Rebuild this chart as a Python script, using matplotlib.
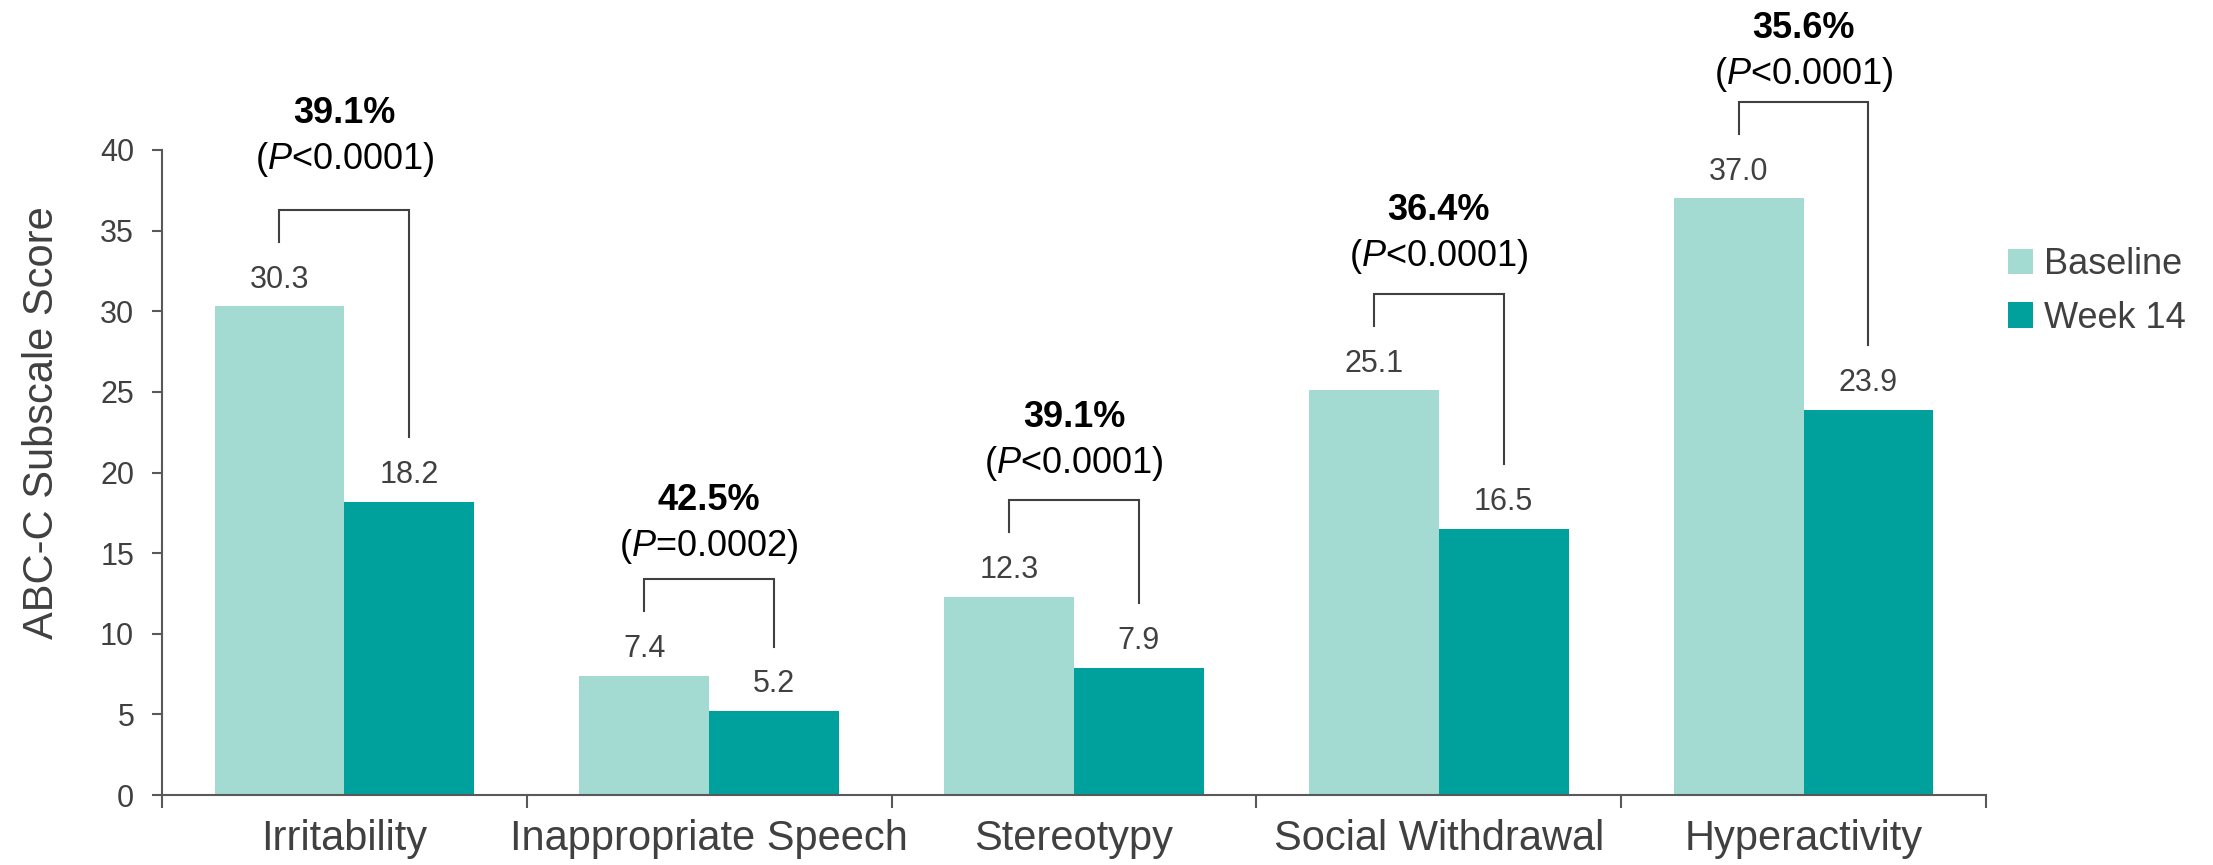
import matplotlib.pyplot as plt
import numpy as np

# Data
categories = ['Irritability', 'Inappropriate Speech', 'Stereotypy',
              'Social Withdrawal', 'Hyperactivity']
baseline = [30.3, 7.4, 12.3, 25.1, 37.0]
week14 = [18.2, 5.2, 7.9, 16.5, 23.9]
pct_change = ['39.1%', '42.5%', '39.1%', '36.4%', '35.6%']
p_values = ['<0.0001', '=0.0002', '<0.0001', '<0.0001', '<0.0001']

# layout tweaks for the annotation text (points above bracket top)
p_gap = [29.5, 16.5, 19.5, 20, 13]

plt.rcParams['font.family'] = ['Liberation Sans', 'DejaVu Sans']
plt.rcParams['mathtext.fontset'] = 'custom'
plt.rcParams['mathtext.rm'] = 'Liberation Sans'
plt.rcParams['mathtext.it'] = 'Liberation Sans:italic'

light = '#A3DAD2'
dark = '#00A19C'
grey = '#404040'
axis_col = '#595959'

fig = plt.figure(figsize=(22.13, 8.65), dpi=100)
ax = fig.add_axes([0.0732, 0.0809, 0.8242, 0.7457])

x = np.arange(len(categories))
w = 0.356

ax.bar(x - w / 2, baseline, w, color=light, label='Baseline')
ax.bar(x + w / 2, week14, w, color=dark, label='Week 14')

# value labels
for xi, b, k in zip(x, baseline, week14):
    ax.annotate(f'{b:.1f}', (xi - w / 2, b), xytext=(0, 13.5), textcoords='offset points',
                ha='center', va='baseline', fontsize=22, color=grey)
    ax.annotate(f'{k:.1f}', (xi + w / 2, k), xytext=(0, 13.5), textcoords='offset points',
                ha='center', va='baseline', fontsize=22, color=grey)

# brackets with % change and p value
for xi, b, k, pc, pv, gap in zip(x, baseline, week14, pct_change, p_values, p_gap):
    xl, xr = xi - w / 2, xi + w / 2
    top = b + 6
    ax.plot([xl, xl, xr, xr], [b + 4, top, top, k + 4], color=grey, lw=1.5,
            clip_on=False, solid_joinstyle='miter')
    ax.annotate(r'($\it{P}$' + pv + ')', (xi, top), xytext=(0, gap), textcoords='offset points',
                ha='center', va='baseline', fontsize=26, color='black', annotation_clip=False)
    ax.annotate(pc, (xi, top), xytext=(0, gap + 33), textcoords='offset points',
                ha='center', va='baseline', fontsize=26, fontweight='bold', color='black',
                annotation_clip=False)

ax.set_xlim(-0.5, len(categories) - 0.5)
ax.set_ylim(0, 40)
ax.set_yticks(np.arange(0, 41, 5))
ax.set_xticks(x)
ax.set_xticklabels(categories)
ax.set_xticks(np.arange(-0.5, len(categories), 1), minor=True)

ax.tick_params(axis='x', which='major', length=0, pad=17, labelsize=30, labelcolor=grey)
ax.tick_params(axis='x', which='minor', length=9, width=1.5, color=axis_col)
ax.tick_params(axis='y', length=7, width=1.5, color=axis_col, pad=13, labelsize=22,
               labelcolor=grey)

for s in ['top', 'right']:
    ax.spines[s].set_visible(False)
for s in ['left', 'bottom']:
    ax.spines[s].set_color(axis_col)
    ax.spines[s].set_linewidth(1.5)

fig.text(42 / 2213, 0.511, 'ABC-C Subscale Score', rotation=90, ha='center', va='center',
         fontsize=30, color=grey)

fig.legend(loc='center left', bbox_to_anchor=(0.9074, 0.663), frameon=False, fontsize=26,
           handlelength=0.7, handleheight=0.7, handletextpad=0.3, labelspacing=0.5,
           borderpad=0, borderaxespad=0, labelcolor=grey)

fig.savefig('out.png', dpi=100)
